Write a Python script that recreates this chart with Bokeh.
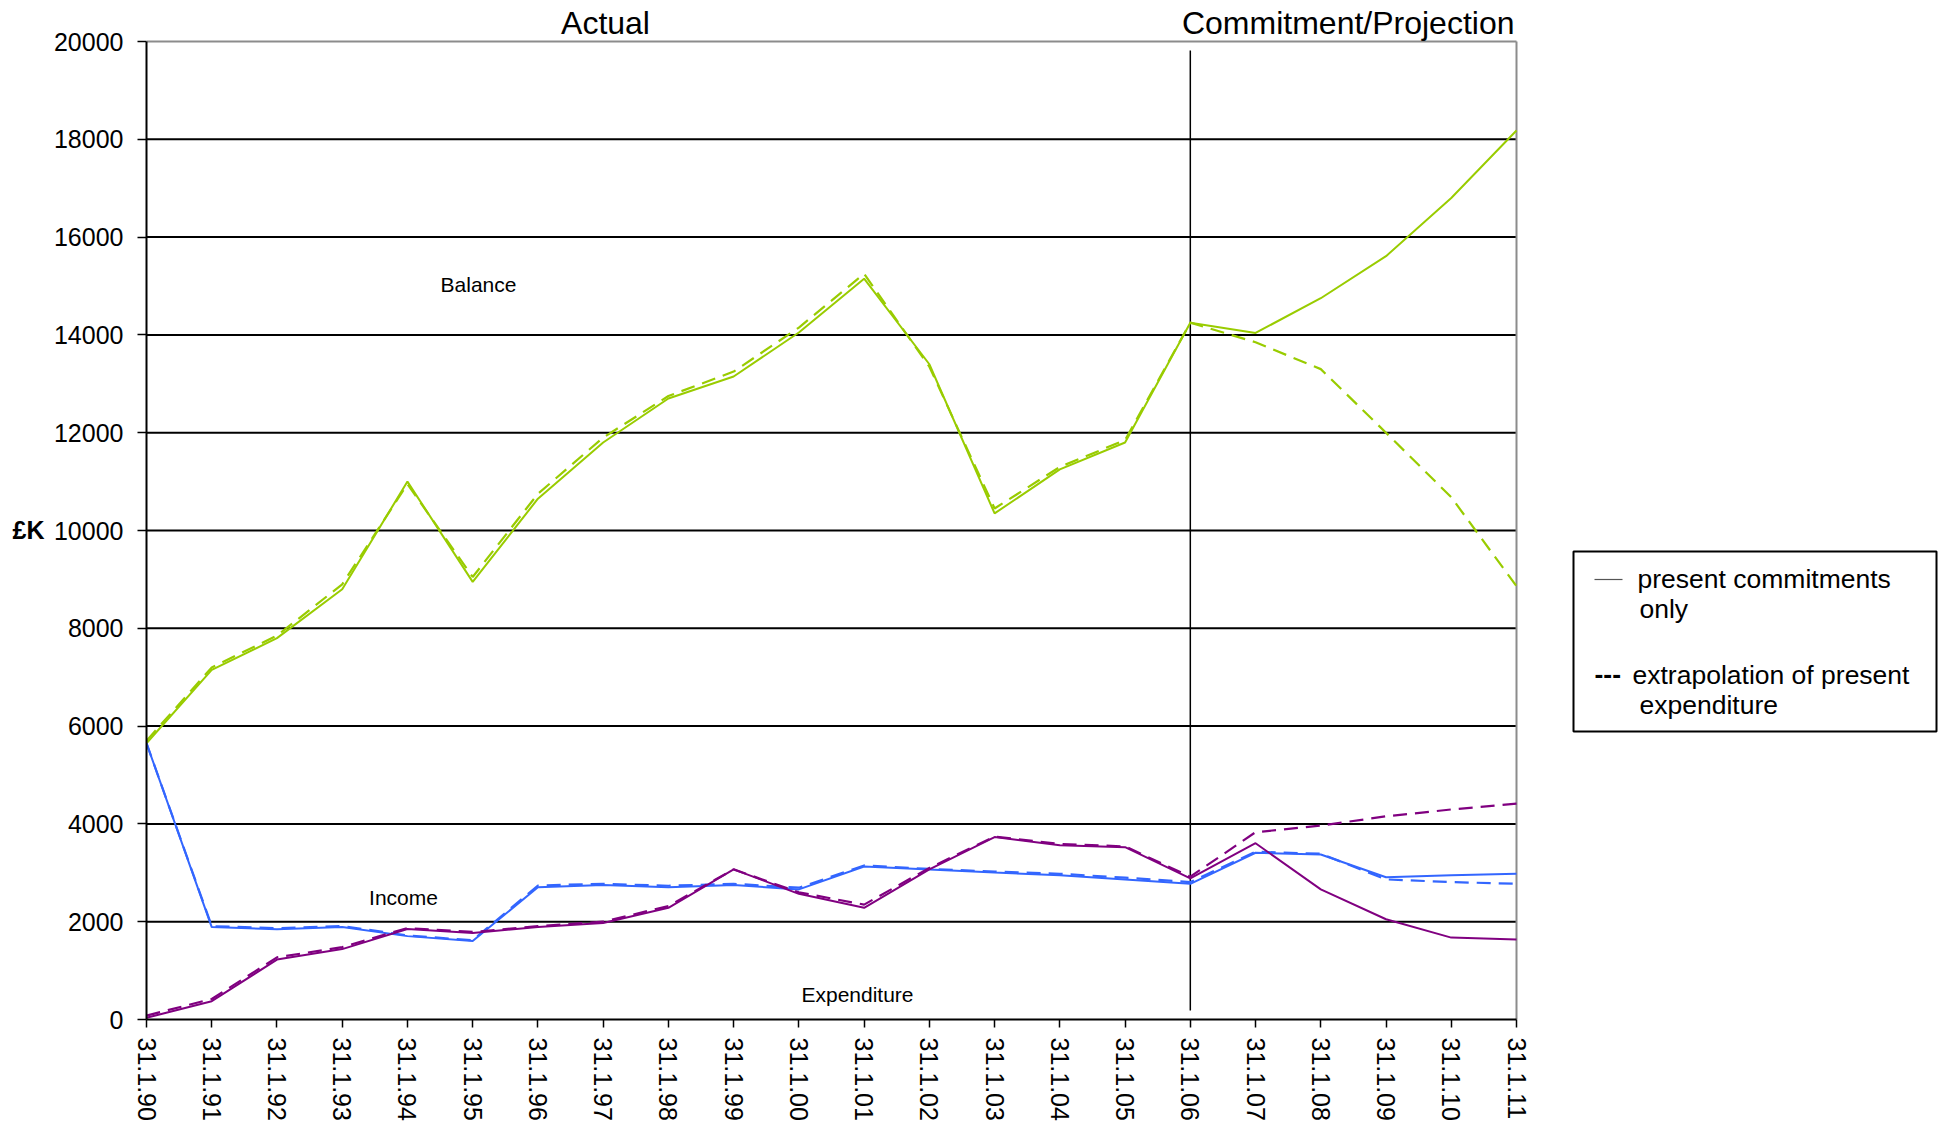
from bokeh.plotting import figure
from bokeh.layouts import row
from bokeh.models import FixedTicker, Label, BoxAnnotation, Range1d
from bokeh.embed import file_html
from bokeh.resources import INLINE

years = ["31.1.90", "31.1.91", "31.1.92", "31.1.93", "31.1.94", "31.1.95", "31.1.96",
         "31.1.97", "31.1.98", "31.1.99", "31.1.00", "31.1.01", "31.1.02", "31.1.03",
         "31.1.04", "31.1.05", "31.1.06", "31.1.07", "31.1.08", "31.1.09", "31.1.10", "31.1.11"]

balance_present = [5650, 7150, 7800, 8800, 11000, 8950, 10650, 11800, 12700, 13150, 14050,
                   15150, 13400, 10350, 11250, 11800, 14250, 14040, 14750, 15610, 16800, 18180]
balance_extrap = [5700, 7200, 7850, 8900, 10950, 9050, 10750, 11900, 12750, 13250, 14150,
                  15250, 13350, 10450, 11300, 11850, 14250, 13850, 13300, 12000, 10680, 8860]

income_present = [5650, 1890, 1845, 1890, 1705, 1605, 2705, 2750, 2705, 2750, 2660,
                  3130, 3070, 3005, 2950, 2865, 2775, 3410, 3375, 2910, 2950, 2980]
income_extrap = [5650, 1910, 1865, 1910, 1720, 1620, 2740, 2775, 2735, 2775, 2695,
                 3150, 3080, 3025, 2980, 2900, 2810, 3430, 3390, 2865, 2810, 2775]

expend_present = [35, 375, 1225, 1440, 1850, 1770, 1890, 1975, 2285, 3070, 2570,
                  2285, 3070, 3730, 3565, 3525, 2885, 3605, 2660, 2050, 1675, 1635]
expend_extrap = [80, 420, 1270, 1480, 1870, 1790, 1910, 2000, 2320, 3070, 2600,
                 2350, 3100, 3740, 3590, 3540, 2920, 3830, 3965, 4155, 4295, 4415]

y_ticks = [0, 2000, 4000, 6000, 8000, 10000, 12000, 14000, 16000, 18000, 20000]
divider_year = "31.1.06"

GREEN = "#99CC00"
BLUE = "#3366FF"
PURPLE = "#800080"
FONT = "Liberation Sans"

# ---- page layout (pixels) ----
TOTAL_H = 1124
LEFT_W = 50
AX_LEFT, AX_RIGHT = 144, 1514      # canvas x of first / last category
AX_TOP, AX_BOTTOM = 41, 1019       # canvas y of top / bottom value
CANVAS_RIGHT = 1940

n = len(years)
x = list(range(n))
PX_X = (AX_RIGHT - AX_LEFT) / (n - 1)
PX_Y = (AX_BOTTOM - AX_TOP) / (y_ticks[-1] - y_ticks[0])


def px2x(cx):
    return (cx - AX_LEFT) / PX_X


def px2y(cy):
    return y_ticks[0] + (AX_BOTTOM - cy) / PX_Y


# ---- left strip with the unit label (its frame is aligned with the main frame) ----
left = figure(width=LEFT_W, height=TOTAL_H, x_range=Range1d(0, LEFT_W), y_range=Range1d(AX_BOTTOM, 0),
              x_axis_type=None, y_axis_type=None, min_border=0, min_border_bottom=TOTAL_H - AX_BOTTOM,
              toolbar_location=None, output_backend="svg", outline_line_color=None,
              background_fill_color="white", border_fill_color="white")
left.add_layout(Label(x=12, y=529, text="£K", text_font=FONT, text_font_size="25px",
                      text_font_style="bold", text_baseline="middle", text_align="left",
                      text_color="black"))

# ---- main chart ----
p = figure(frame_width=CANVAS_RIGHT - AX_LEFT, frame_height=AX_BOTTOM,
           min_border_left=AX_LEFT - LEFT_W, min_border_right=0, min_border_top=0,
           min_border_bottom=TOTAL_H - AX_BOTTOM,
           x_range=Range1d(0, px2x(CANVAS_RIGHT)), y_range=Range1d(y_ticks[0], px2y(0)),
           output_backend="svg", toolbar_location=None,
           background_fill_color="white", border_fill_color="white")
p.outline_line_color = None
p.xgrid.visible = False
p.ygrid.visible = False

p.xaxis.ticker = FixedTicker(ticks=x)
p.xaxis.bounds = (0, n - 1)
p.xaxis.major_label_overrides = {i: years[i] for i in x}
p.xaxis.major_label_orientation = "vertical"
p.xaxis.major_label_text_font = FONT
p.xaxis.major_label_text_font_size = "25px"
p.xaxis.major_label_text_color = "black"
p.xaxis.major_label_standoff = 10
p.xaxis.major_tick_out = 8
p.xaxis.major_tick_in = 0
p.xaxis.minor_tick_line_color = None
p.xaxis.axis_line_width = 2
p.xaxis.axis_line_color = "black"
p.xaxis.major_tick_line_color = "black"
p.xaxis.major_tick_line_width = 1.5

p.yaxis.ticker = FixedTicker(ticks=y_ticks)
p.yaxis.bounds = (y_ticks[0], y_ticks[-1])
p.yaxis.major_label_text_font = FONT
p.yaxis.major_label_text_font_size = "25px"
p.yaxis.major_label_text_color = "black"
p.yaxis.major_label_standoff = 14
p.yaxis.major_tick_out = 9
p.yaxis.major_tick_in = 0
p.yaxis.minor_tick_line_color = None
p.yaxis.axis_line_width = 2
p.yaxis.axis_line_color = "black"
p.yaxis.major_tick_line_color = "black"
p.yaxis.major_tick_line_width = 1.5

# horizontal gridlines, limited to the plotting area
grid_vals = y_ticks[1:-1]
p.segment(x0=[0] * len(grid_vals), y0=grid_vals, x1=[n - 1] * len(grid_vals), y1=grid_vals,
          line_color="black", line_width=2)
# gray top and right border of plotting area
p.segment(x0=[0, n - 1], y0=[y_ticks[-1], y_ticks[0]], x1=[n - 1, n - 1], y1=[y_ticks[-1], y_ticks[-1]],
          line_color="#8c8c8c", line_width=2)

# divider between actual and projection
dx = years.index(divider_year)
p.segment(x0=[dx], y0=[px2y(1010)], x1=[dx], y1=[px2y(50)], line_color="black", line_width=1.5)

DASH = "14 8"
p.line(x, balance_extrap, line_color=GREEN, line_width=2.2, line_dash=DASH)
p.line(x, balance_present, line_color=GREEN, line_width=2)
p.line(x, income_extrap, line_color=BLUE, line_width=2.2, line_dash=DASH)
p.line(x, income_present, line_color=BLUE, line_width=2)
p.line(x, expend_extrap, line_color=PURPLE, line_width=2.2, line_dash=DASH)
p.line(x, expend_present, line_color=PURPLE, line_width=2)


def lab(text, cx, cy, size, align="left", style="normal"):
    p.add_layout(Label(x=px2x(cx), y=px2y(cy), text=text,
                       text_font=FONT, text_font_size=size, text_align=align,
                       text_baseline="middle", text_color="black", text_font_style=style))


lab("Actual", 603, 22, "32px", align="center")
lab("Commitment/Projection", 1512, 22, "32px", align="right")
lab("Balance", 476, 284, "21px", align="center")
lab("Income", 401, 897, "21px", align="center")
lab("Expenditure", 855, 994, "21px", align="center")

# legend box (drawn beneath glyphs so the sample line shows)
p.add_layout(BoxAnnotation(left=px2x(1571), right=px2x(1934), top=px2y(551), bottom=px2y(731),
                           fill_color="white", fill_alpha=1.0, level="underlay",
                           line_color="black", line_width=2, line_alpha=1.0))
p.segment(x0=[px2x(1592)], y0=[px2y(579)], x1=[px2x(1620)], y1=[px2y(579)],
          line_color="#555555", line_width=1.2)
lab("present commitments", 1635, 578, "26.5px")
lab("only", 1637, 608, "26.5px")
lab("---", 1592, 673, "26.5px", style="bold")
lab("extrapolation of present", 1630, 674, "26.5px")
lab("expenditure", 1637, 704, "26.5px")

layout = row(left, p)
open("out.html", "w").write(file_html(layout, INLINE))
